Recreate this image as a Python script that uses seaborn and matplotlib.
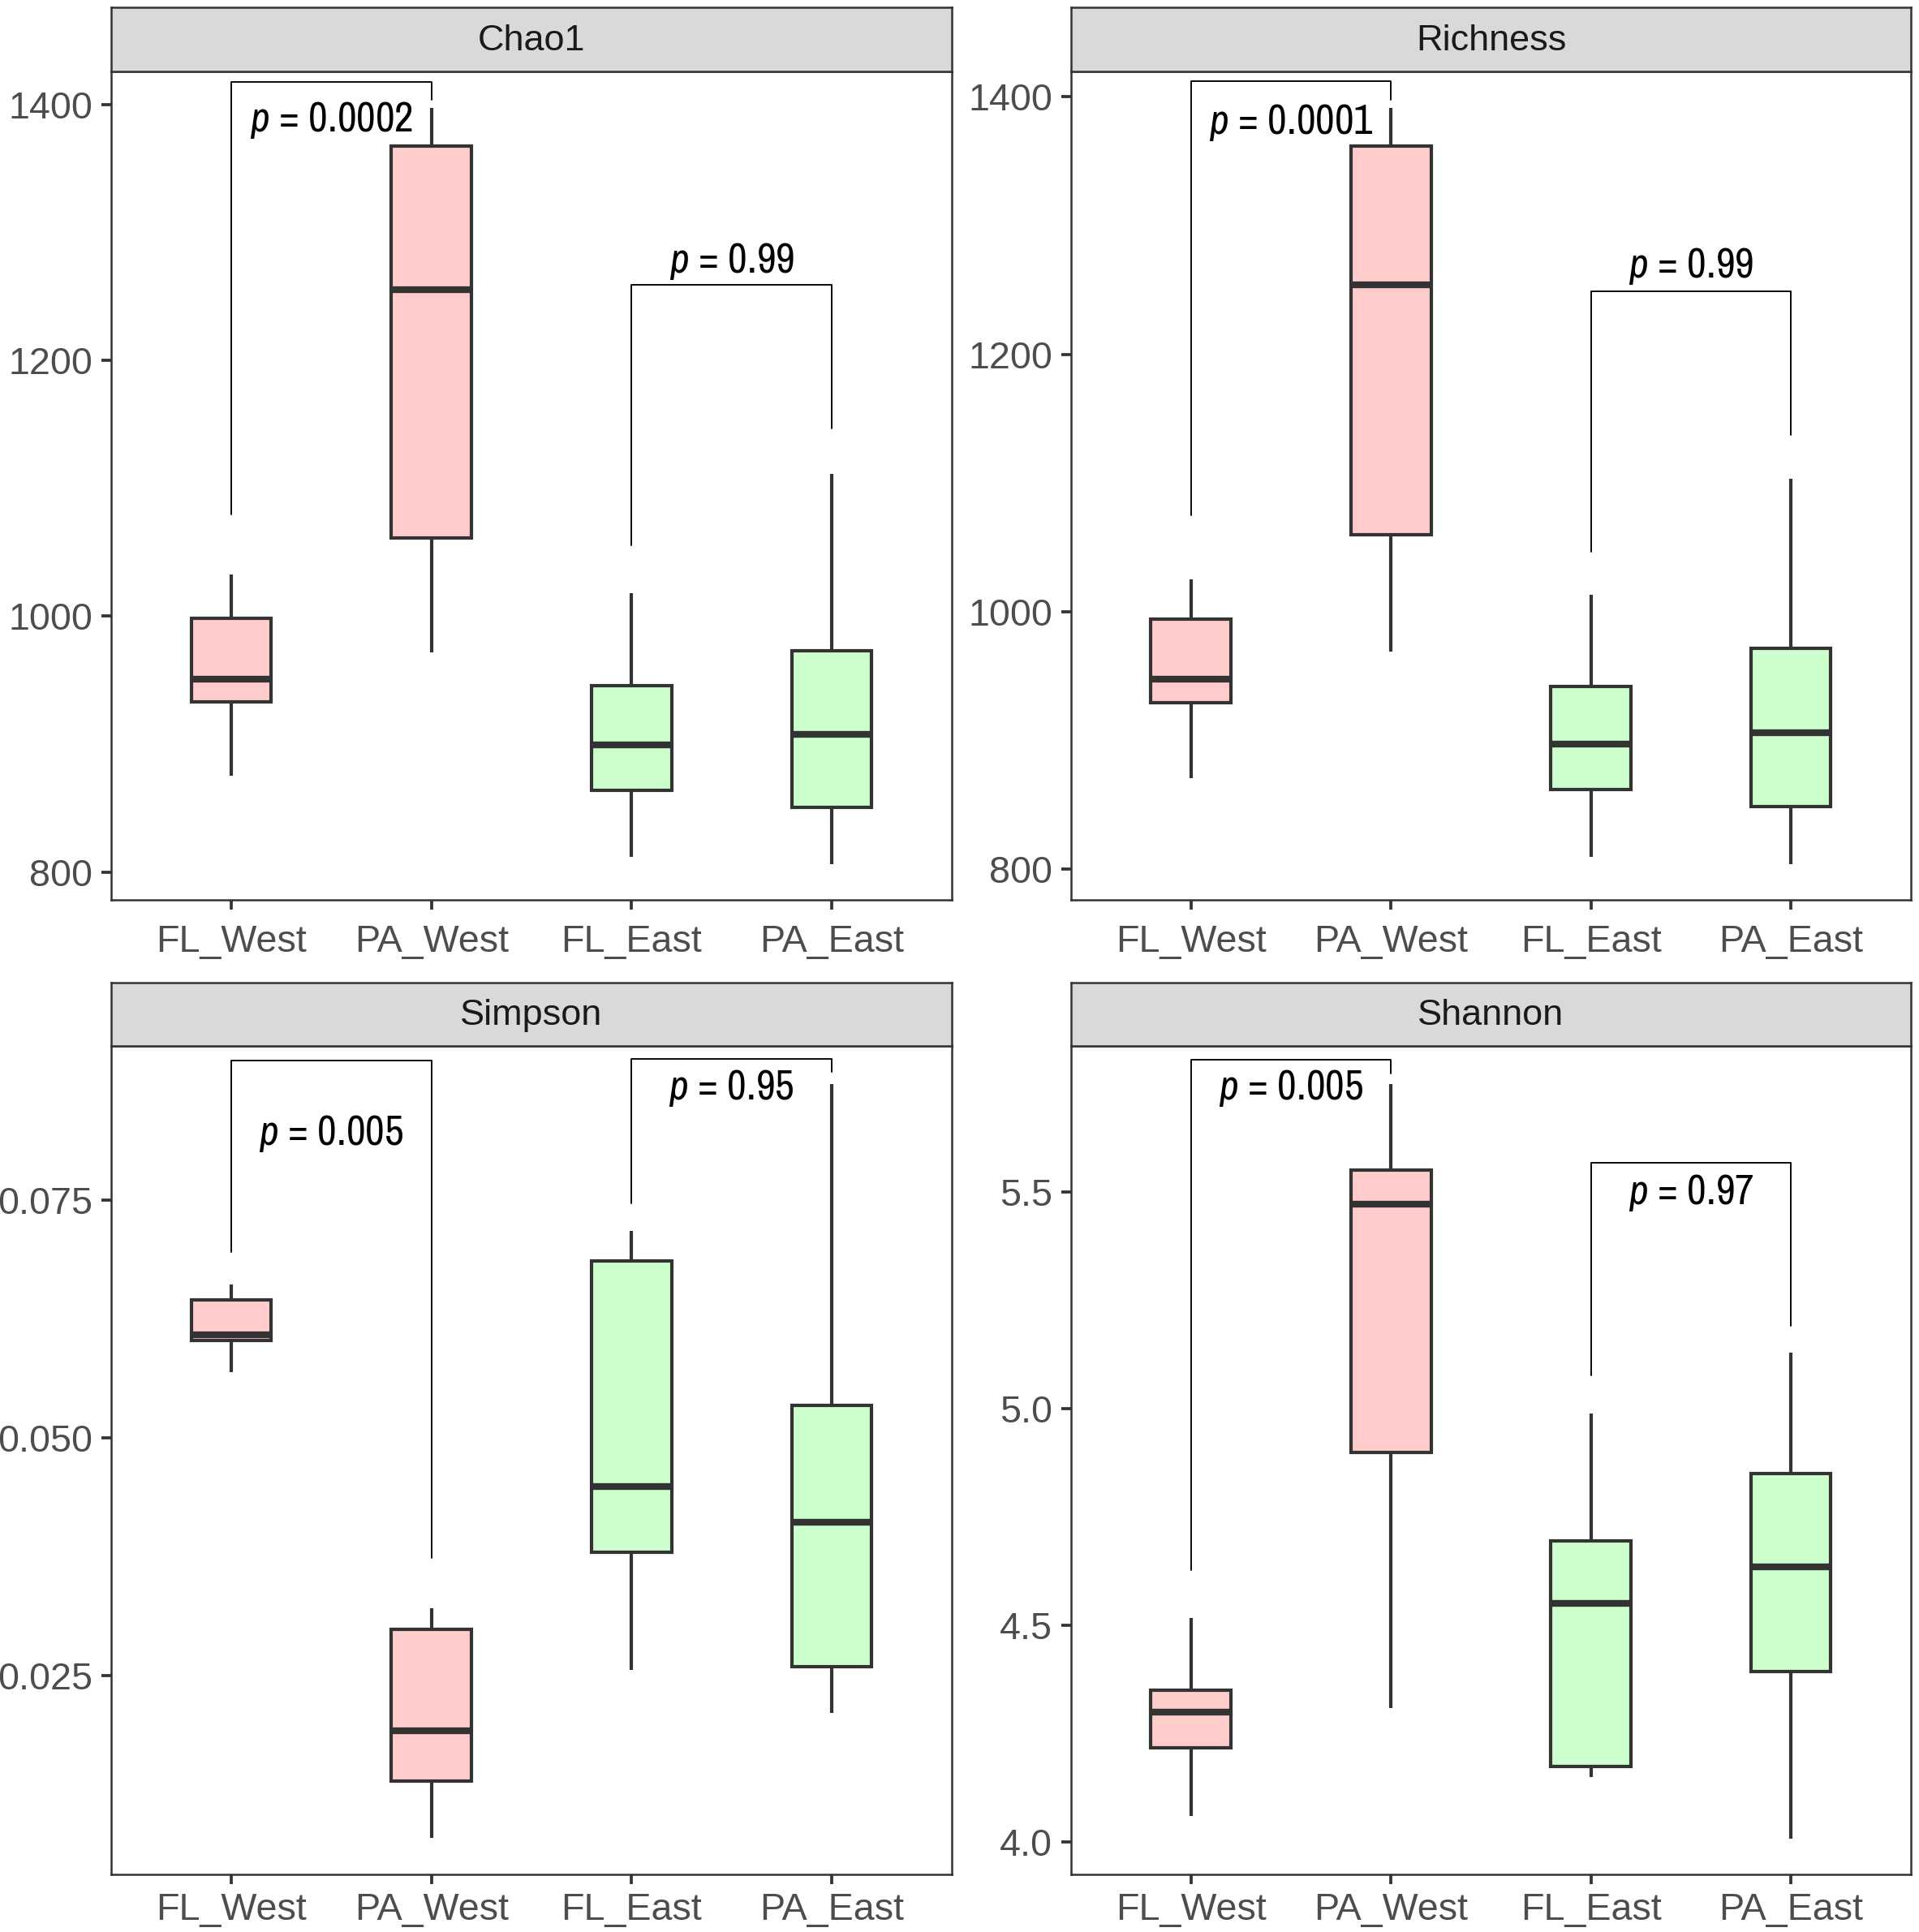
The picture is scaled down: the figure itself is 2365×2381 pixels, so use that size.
import numpy as np
import pandas as pd
import matplotlib
matplotlib.use("Agg")
import matplotlib.pyplot as plt
from matplotlib import font_manager
import seaborn as sns

# groups on the x axis and their fill colours
GROUPS = ["FL_West", "PA_West", "FL_East", "PA_East"]
FILLS = ["#FFCCCC", "#FFCCCC", "#CCFFCC", "#CCFFCC"]

# five-number summaries, per group (GROUPS order):
# lower whisker, Q1, median, Q3, upper whisker
CHAO1 = [
    [875.1, 933.1, 950.6, 998.4, 1032.5],
    [971.6, 1061.3, 1255.7, 1367.8, 1397.6],
    [811.7, 863.8, 899.4, 945.7, 1017.9],
    [806.3, 850.2, 907.7, 973.1, 1111.5],
]
RICHNESS = [
    [870.6, 929.6, 947.6, 994.5, 1025.5],
    [969.3, 1059.8, 1254.3, 1361.8, 1391.3],
    [809.7, 861.9, 897.2, 942.2, 1013.4],
    [804.3, 848.8, 905.9, 971.7, 1103.4],
]
SIMPSON = [
    [0.05692, 0.0602, 0.06078, 0.06451, 0.06612],
    [0.00795, 0.01393, 0.01921, 0.02989, 0.03214],
    [0.02564, 0.038, 0.04488, 0.06857, 0.07172],
    [0.02114, 0.02597, 0.04115, 0.05338, 0.08716],
]
SHANNON = [
    [4.060, 4.218, 4.299, 4.350, 4.518],
    [4.310, 4.900, 5.472, 5.551, 5.750],
    [4.150, 4.174, 4.551, 4.696, 4.989],
    [4.008, 4.393, 4.635, 4.850, 5.129],
]

# pairwise comparison labels (FL_West vs PA_West, FL_East vs PA_East)
CHAO1_P = ["0.0002", "0.99"]
RICHNESS_P = ["0.0001", "0.99"]
SIMPSON_P = ["0.005", "0.95"]
SHANNON_P = ["0.005", "0.97"]

# brackets: top, left tip end, right tip end, label baseline
CHAO1_BR = [[1418.0, 1079.8, 1403.9, 1379.5], [1259.1, 1055.4, 1147.0, 1268.9]]
RICHNESS_BR = [[1412.1, 1075.3, 1397.6, 1371.4], [1249.0, 1046.8, 1137.7, 1259.7]]
SIMPSON_BR = [[0.08961, 0.06947, 0.03742, 0.08073], [0.0898, 0.07461, 0.08845, 0.08549]]
SHANNON_BR = [[5.806, 4.628, 5.775, 5.714], [5.568, 5.078, 5.192, 5.473]]

CHAO1_TICKS = [800, 1000, 1200, 1400]
RICHNESS_TICKS = [800, 1000, 1200, 1400]
SIMPSON_TICKS = [0.025, 0.050, 0.075]
SHANNON_TICKS = [4.0, 4.5, 5.0, 5.5]

PANELS = [
    ("Chao1", CHAO1, CHAO1_P, CHAO1_BR, CHAO1_TICKS, (778.1, 1426.3), "{:.0f}"),
    ("Richness", RICHNESS, RICHNESS_P, RICHNESS_BR, RICHNESS_TICKS, (776.3, 1419.8), "{:.0f}"),
    ("Simpson", SIMPSON, SIMPSON_P, SIMPSON_BR, SIMPSON_TICKS, (0.00415, 0.09115), "{:.3f}"),
    ("Shannon", SHANNON, SHANNON_P, SHANNON_BR, SHANNON_TICKS, (3.925, 5.838), "{:.1f}"),
]

sns.set_style("ticks")

# the p labels use a narrow face when one is installed, else a smaller regular one
names = {f.name for f in font_manager.fontManager.ttflist}
narrow = [n for n in names if "Narrow" in n or "Condensed" in n]
if "Liberation Sans Narrow" in names:
    P_FONT, P_SIZE = "Liberation Sans Narrow", 12
elif narrow:
    P_FONT, P_SIZE = sorted(narrow)[0], 12.4
else:
    P_FONT, P_SIZE = "Liberation Sans", 10.3

plt.rcParams["font.family"] = ["Liberation Sans", "DejaVu Sans"]
plt.rcParams["mathtext.fontset"] = "custom"
plt.rcParams["mathtext.it"] = P_FONT + ":italic"
plt.rcParams["mathtext.rm"] = P_FONT

DARK = "#333333"
TICK_COL = "#4D4D4D"

fig = plt.figure(figsize=(2365 / 300, 2381 / 300), dpi=300)

# axes boxes in figure fractions: (x0, width) per column,
# (y0, height, strip y0, strip h, x tick pad) per row
COLS = [(0.0579, 0.4381), (0.5581, 0.4377)]
ROWS = [(0.53423, 0.42881, 0.96304, 0.03318, 4.2),
        (0.02982, 0.42881, 0.45863, 0.03276, 2.4)]

for i, (title, values, pvals, brackets, ticks, ylim, fmt) in enumerate(PANELS):
    cx, cw = COLS[i % 2]
    ry, rh, sy, sh, xpad = ROWS[i // 2]
    ax = fig.add_axes([cx, ry, cw, rh])

    df = pd.DataFrame({
        "group": np.repeat(GROUPS, 5),
        "value": np.concatenate(values),
    })
    sns.boxplot(
        data=df, x="group", y="value", hue="group", order=GROUPS,
        hue_order=GROUPS, palette=dict(zip(GROUPS, FILLS)), legend=False,
        width=0.4, whis=(0, 100), saturation=1, linecolor=DARK,
        linewidth=1.0, showcaps=False, showfliers=False,
        medianprops=dict(linewidth=2.0, color=DARK), ax=ax,
    )

    # comparison brackets with p labels
    for (g1, g2), (top, lo1, lo2, ly), p in zip([(0, 1), (2, 3)], brackets, pvals):
        ax.plot([g1, g1, g2, g2], [lo1, top, top, lo2], color="black", lw=0.45)
        ax.text((g1 + g2) / 2, ly, r"$p$ = " + p, ha="center", va="baseline",
                fontsize=P_SIZE, family=P_FONT, color="black")

    ax.set_xlim(-0.6, 3.6)
    ax.set_ylim(*ylim)
    ax.set_yticks(ticks)
    ax.set_yticklabels([fmt.format(t) for t in ticks])
    ax.set_xlabel("")
    ax.set_ylabel("")
    ax.tick_params(axis="both", length=2.9, width=0.9, color=DARK,
                   labelcolor=TICK_COL, labelsize=11.2, pad=2.6)
    ax.tick_params(axis="x", pad=xpad)
    for sp in ax.spines.values():
        sp.set_visible(True)
        sp.set_color(DARK)
        sp.set_linewidth(0.6)

    # facet strip
    st = fig.add_axes([cx, sy, cw, sh])
    st.set_facecolor("#D9D9D9")
    st.set_xticks([])
    st.set_yticks([])
    for sp in st.spines.values():
        sp.set_color(DARK)
        sp.set_linewidth(0.6)
    st.text(0.5, 0.48, title, ha="center", va="center", fontsize=10.8,
            color="#1A1A1A", transform=st.transAxes)

fig.savefig("out.png", dpi=300, facecolor="white")
plt.close(fig)
